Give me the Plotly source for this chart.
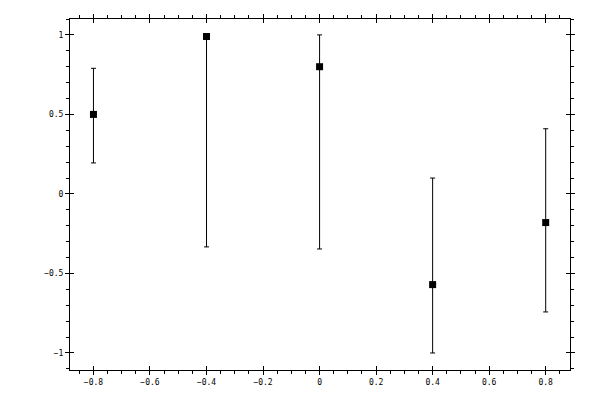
import plotly.graph_objects as go

x_vals = [-0.8, -0.4, 0.0, 0.4, 0.8]
y_vals = [0.5, 0.99, 0.8, -0.57, -0.18]
err_plus = [0.29, 0.0, 0.2, 0.67, 0.59]
err_minus = [0.305, 1.323, 1.146, 0.43, 0.562]

x_range = [-0.883, 0.886]
y_range = [-1.107, 1.10]

font = dict(family="DejaVu Sans Mono", size=8, color="black")

fig = go.Figure()

fig.add_trace(go.Scatter(
    x=x_vals, y=y_vals, mode="markers",
    marker=dict(symbol="square", size=7, color="black"),
    error_y=dict(type="data", symmetric=False, array=err_plus, arrayminus=err_minus,
                 color="black", thickness=1, width=2.5),
    showlegend=False, hoverinfo="skip",
))

# empty trace so the second (inside-tick) axes get drawn
fig.add_trace(go.Scatter(x=[], y=[], xaxis="x2", yaxis="y2",
                         showlegend=False, hoverinfo="skip"))

common = dict(showline=True, linecolor="black", linewidth=1, showgrid=False,
              zeroline=False, ticks="outside", ticklen=4, tickwidth=1,
              tickcolor="black", mirror="ticks", tickfont=font, automargin=False)

# page body has an 8px margin, so shift the plot area back
fig.update_layout(
    width=600, height=400,
    margin=dict(l=62, r=38, t=11, b=38),
    paper_bgcolor="white", plot_bgcolor="white",
    xaxis=dict(range=x_range, tick0=0, dtick=0.2, **common,
               minor=dict(ticks="outside", ticklen=3, dtick=0.05, tick0=0,
                          tickcolor="black", showgrid=False)),
    yaxis=dict(range=y_range, tick0=0, dtick=0.5, **common,
               minor=dict(ticks="outside", ticklen=3, dtick=0.1, tick0=0,
                          tickcolor="black", showgrid=False)),
    xaxis2=dict(range=x_range, overlaying="x", side="bottom", tick0=0, dtick=0.2,
                ticks="inside", ticklen=4, tickwidth=1, tickcolor="black",
                mirror="ticks", showline=False, showgrid=False, zeroline=False,
                showticklabels=False),
    yaxis2=dict(range=y_range, overlaying="y", side="left", tick0=0, dtick=0.5,
                ticks="inside", ticklen=4, tickwidth=1, tickcolor="black",
                mirror="ticks", showline=False, showgrid=False, zeroline=False,
                showticklabels=False),
)

fig.write_html("out.html")
